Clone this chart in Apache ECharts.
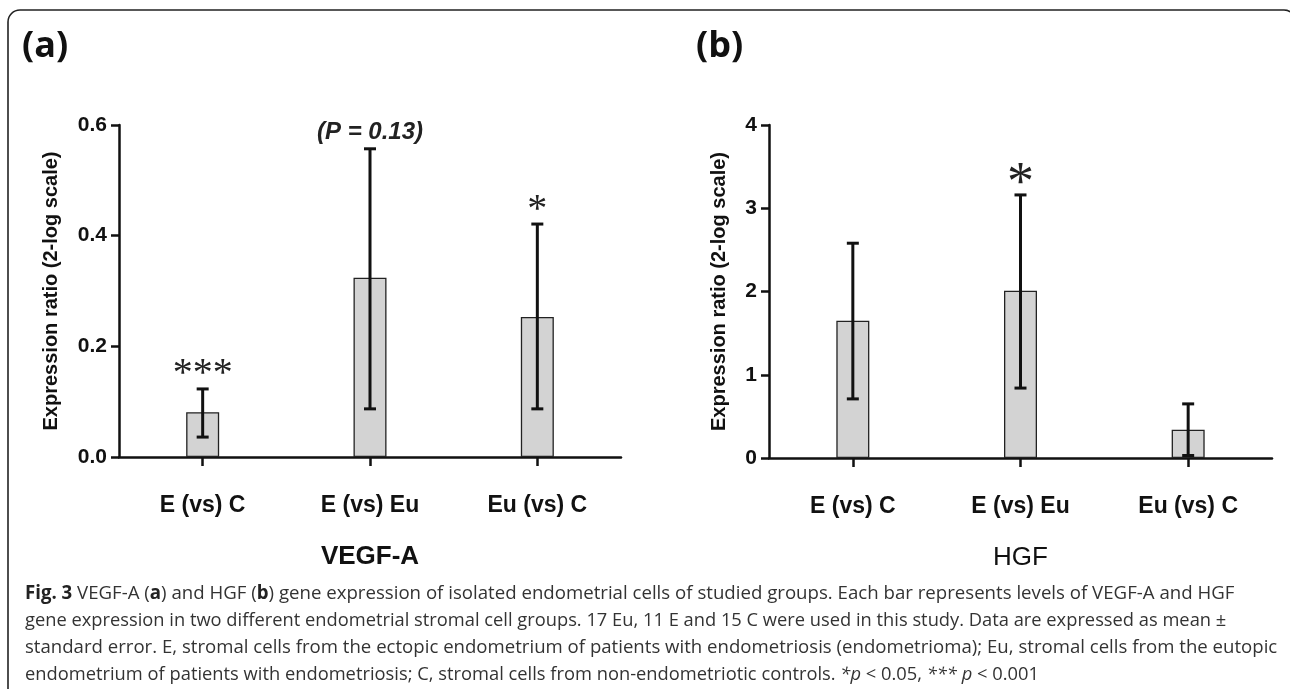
<!DOCTYPE html>
<html><head><meta charset="utf-8">
<script src="https://cdn.jsdelivr.net/npm/echarts@6/dist/echarts.min.js"></script>
<style>html,body{margin:0;padding:0;background:#fff}#c{width:1290px;height:689px}</style>
</head><body><div id="c"></div>
<script>
// ---- data ----
const categories = ['E (vs) C', 'E (vs) Eu', 'Eu (vs) C'];
const vegfMean = [0.081, 0.324, 0.253];
const vegfLow  = [0.036, 0.087, 0.087];
const vegfHigh = [0.123, 0.557, 0.421];
const vegfMarks = ['***', '(P = 0.13)', '*'];
const vegfTicks = [0, 0.2, 0.4, 0.6];
const hgfMean = [1.65, 2.01, 0.34];
const hgfLow  = [0.71, 0.84, 0.03];
const hgfHigh = [2.58, 3.16, 0.65];
const hgfMarks = ['', '*', ''];
const hgfTicks = [0, 1, 2, 3, 4];
const yTitle = 'Expression ratio (2-log scale)';
const geneA = 'VEGF-A';
const geneB = 'HGF';
const captionLines = [
  '{b|Fig. 3} VEGF-A ({b|a}) and HGF ({b|b}) gene expression of isolated endometrial cells of studied groups. Each bar represents levels of VEGF-A and HGF',
  'gene expression in two different endometrial stromal cell groups. 17 Eu, 11 E and 15 C were used in this study. Data are expressed as mean ±',
  'standard error. E, stromal cells from the ectopic endometrium of patients with endometriosis (endometrioma); Eu, stromal cells from the eutopic',
  'endometrium of patients with endometriosis; C, stromal cells from non-endometriotic controls. {i|*p} < 0.05, {i|*** p} < 0.001'
];

// ---- rendering ----
const captionScale = [0.981, 0.963, 0.979, 0.964];
const chart = echarts.init(document.getElementById('c'), null, {renderer: 'canvas'});
const AX = {lineStyle: {color: '#111', width: 2.5}};
const sans = 'Liberation Sans';

function errItem(params, api) {
  const i = api.value(0);
  const top = api.coord([i, api.value(2)]);
  const bot = api.coord([i, api.value(1)]);
  const w = 6;
  const st = {stroke: '#111', lineWidth: 3};
  return {type: 'group', children: [
    {type: 'line', shape: {x1: top[0], y1: top[1], x2: bot[0], y2: bot[1]}, style: st},
    {type: 'line', shape: {x1: top[0] - w, y1: top[1], x2: top[0] + w, y2: top[1]}, style: st},
    {type: 'line', shape: {x1: bot[0] - w, y1: bot[1], x2: bot[0] + w, y2: bot[1]}, style: st}
  ]};
}
function markItem(marks, starSize, starDy) {
  return function (params, api) {
    const i = api.value(0);
    const t = marks[i];
    if (!t) return null;
    const p = api.coord([i, api.value(1)]);
    const isStar = /^\*+$/.test(t);
    const font = isStar ? ('normal ' + starSize + 'px "Liberation Serif"')
                        : ('italic bold 24px "Liberation Sans"');
    const dy = isStar ? starDy : -16;
    return {type: 'text', x: p[0], y: p[1] + dy,
      style: {text: t, font: font, fill: '#222', align: 'center', verticalAlign: 'middle',
              textAlign: 'center', textVerticalAlign: 'middle'}};
  };
}
const errData = (lo, hi) => categories.map((c, i) => [i, lo[i], hi[i]]);
const markData = (hi) => categories.map((c, i) => [i, hi[i]]);

function xAx(idx, name, nameWeight) {
  return {type: 'category', gridIndex: idx, data: categories,
    axisLine: AX, axisTick: {show: true, alignWithLabel: true, length: 9, lineStyle: {color: '#111', width: 2.5}},
    axisLabel: {margin: 37, fontSize: 23, fontWeight: 'bold', color: '#111', fontFamily: sans},
    name: name, nameLocation: 'middle', nameGap: 87,
    nameTextStyle: {fontSize: 26, fontWeight: nameWeight, color: '#111', fontFamily: sans}};
}
function yAx(idx, ticks, fmt, gap) {
  const step = ticks[1] - ticks[0];
  return {type: 'value', gridIndex: idx, min: ticks[0], max: ticks[ticks.length - 1], interval: step,
    splitLine: {show: false}, axisLine: {show: true, lineStyle: {color: '#111', width: 2.5}},
    axisTick: {show: true, length: 8, lineStyle: {color: '#111', width: 2.5}},
    axisLabel: {margin: 12, fontSize: 21, fontWeight: 'bold', color: '#111', fontFamily: sans, formatter: fmt},
    name: yTitle, nameLocation: 'middle', nameRotate: 90, nameGap: gap,
    nameTextStyle: {fontSize: 20, fontWeight: 'bold', color: '#111', fontFamily: sans}};
}

const option = {
  animation: false,
  backgroundColor: '#fff',
  grid: [
    {left: 119, top: 125, width: 502, height: 332},
    {left: 769, top: 125, width: 503, height: 333}
  ],
  xAxis: [xAx(0, geneA, 'bold'), xAx(1, geneB, 'normal')],
  yAxis: [yAx(0, vegfTicks, v => v.toFixed(1), 58), yAx(1, hgfTicks, v => String(v), 40)],
  series: [
    {type: 'bar', xAxisIndex: 0, yAxisIndex: 0, data: vegfMean, barWidth: 33,
      itemStyle: {color: '#d3d3d3', borderColor: '#222', borderWidth: 1.3}},
    {type: 'custom', xAxisIndex: 0, yAxisIndex: 0, data: errData(vegfLow, vegfHigh), renderItem: errItem, z: 5},
    {type: 'custom', xAxisIndex: 0, yAxisIndex: 0, data: markData(vegfHigh), renderItem: markItem(vegfMarks, 40, -14), z: 6},
    {type: 'bar', xAxisIndex: 1, yAxisIndex: 1, data: hgfMean, barWidth: 33,
      itemStyle: {color: '#d3d3d3', borderColor: '#222', borderWidth: 1.3}},
    {type: 'custom', xAxisIndex: 1, yAxisIndex: 1, data: errData(hgfLow, hgfHigh), renderItem: errItem, z: 5},
    {type: 'custom', xAxisIndex: 1, yAxisIndex: 1, data: markData(hgfHigh), renderItem: markItem(hgfMarks, 54, -10), z: 6}
  ],
  graphic: [
    {type: 'rect', shape: {x: 8, y: 10, width: 1288, height: 720, r: 12},
      style: {fill: 'none', stroke: '#222', lineWidth: 1.6}, silent: true},
    {type: 'text', left: 22, top: 29, style: {text: '(a)', font: 'bold 36px "Open Sans"', fill: '#111'}},
    {type: 'text', left: 696, top: 29, style: {text: '(b)', font: 'bold 36px "Open Sans"', fill: '#111'}}
  ].concat(captionLines.map((t, k) => ({
    type: 'text', x: 25, y: 594 + k * 27, scaleX: captionScale[k],
    style: {text: t, font: '19px "Open Sans"', fill: '#333', verticalAlign: 'middle',
      rich: {b: {fontWeight: 'bold', fontSize: 19, fontFamily: 'Open Sans', fill: '#222'},
             i: {fontStyle: 'italic', fontSize: 19, fontFamily: 'Open Sans', fill: '#333'}}}
  })))
};
chart.setOption(option);
</script>
</body></html>
